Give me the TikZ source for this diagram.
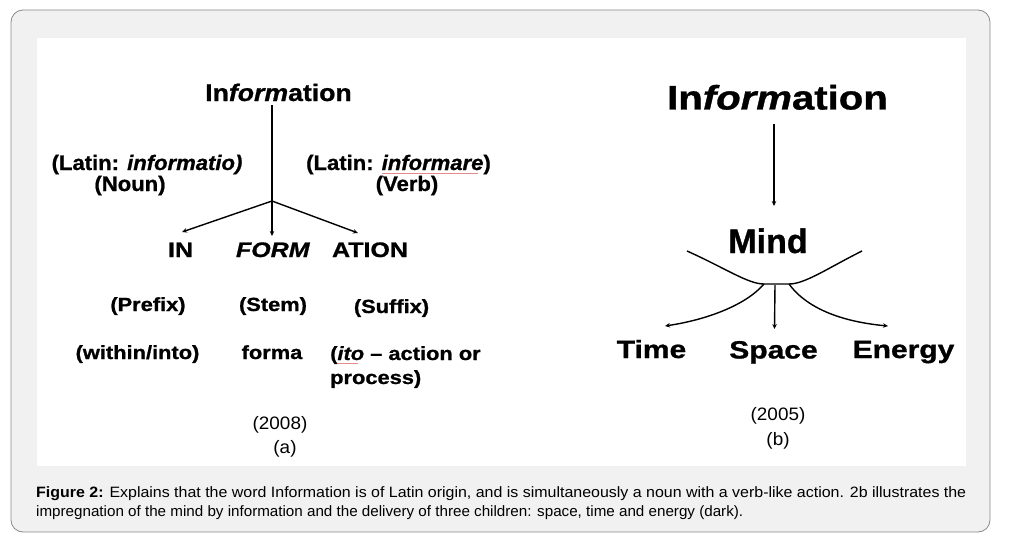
\documentclass[tikz,border=0pt]{standalone}
\usepackage{fontspec}
\usepackage{graphicx}
\setmainfont{Liberation Sans}
\newfontfamily\hv[UprightFont={Liberation Sans Bold}, ItalicFont={Liberation Sans Bold Italic}, FakeBold=0.9, Ligatures=TeX]{Liberation Sans}
\usetikzlibrary{arrows.meta}
\definecolor{panel}{HTML}{F1F1F1}
\definecolor{frame}{HTML}{8A8A8A}
\definecolor{squig}{HTML}{E58A8A}
\newcommand\fsz[1]{\fontsize{#1}{#1}\selectfont}
\newcommand\sx[2]{\scalebox{#1}[1]{#2}}
\begin{document}
\begin{tikzpicture}[x=1pt,y=-1pt,
  lbl/.style={inner sep=0pt, anchor=base, font=\hv},
  plain/.style={inner sep=0pt, anchor=base},
  conn/.style={line width=1.4pt, black},
  arr/.style={conn, -{Stealth[length=5pt,width=4.5pt]}}]
\useasboundingbox (0,0) rectangle (1010,543);
% panels
\draw[frame, fill=panel, line width=0.8pt, rounded corners=12pt] (11,10) rectangle (990,532);
\fill[white] (37,38) rectangle (966,466);

% ---------- (a) ----------
\node[lbl] (infoA) at (278.5,101) {\sx{1.11}{\fsz{24}In\textit{form}ation}};
\node[lbl] (latN) at (147,170) {\sx{1.05}{\fsz{21}(Latin: \textit{informatio)}}};
\node[lbl] (noun) at (130,191) {\sx{1.05}{\fsz{21}(Noun)}};
\node[lbl] (latV) at (398.5,170) {\sx{1.05}{\fsz{21}(Latin: \textit{informare})}};
\node[lbl] (verb) at (407,191) {\sx{1.05}{\fsz{21}(Verb)}};
\node[lbl] (IN) at (180.5,257) {\sx{1.19}{\fsz{21}IN}};
\node[lbl] (FORM) at (273,257) {\sx{1.19}{\fsz{21}\textit{FORM}}};
\node[lbl] (ATION) at (370,257) {\sx{1.19}{\fsz{21}ATION}};
\node[lbl] (pre) at (148,311) {\sx{1.15}{\fsz{19}(Prefix)}};
\node[lbl] (stem) at (273,311) {\sx{1.15}{\fsz{19}(Stem)}};
\node[lbl] (suf) at (391.5,313) {\sx{1.15}{\fsz{19}(Suffix)}};
\node[lbl] (within) at (137.5,359) {\sx{1.15}{\fsz{19}(within/into)}};
\node[lbl] (forma) at (272,359) {\sx{1.15}{\fsz{19}forma}};
\node[lbl, anchor=base west] (ito) at (330,360) {\sx{1.15}{\fsz{19}(\textit{ito} – action or}};
\node[lbl, anchor=base west] (proc) at (330,384) {\sx{1.15}{\fsz{19}process)}};
\node[plain] (y08) at (280,429) {\sx{1.05}{\fsz{18}(2008)}};
\node[plain] (ya) at (285,453) {\sx{1.05}{\fsz{18}(a)}};
% spell-check squiggles
\draw[squig, line width=0.6pt] (382,173) -- (478,173);
\draw[squig, line width=0.6pt] (338,363) -- (358,363);

\coordinate (a0) at (272,105);
\coordinate (br) at (272,201);
\coordinate (tIN) at (182,232);
\coordinate (tFORM) at (272,236);
\coordinate (tATION) at (358,233);
\draw[conn] (a0) -- (br);
\draw[arr] (br) -- (tIN);
\draw[arr] (br) -- (tFORM);
\draw[arr] (br) -- (tATION);

% ---------- (b) ----------
\node[lbl] (infoB) at (777.5,109.5) {\sx{1.18}{\fsz{34}In\textit{form}ation}};
\node[lbl] (mind) at (768,253) {\fsz{34}Mind};
\node[lbl] (time) at (651.5,358) {\sx{1.2}{\fsz{25}Time}};
\node[lbl] (space) at (773.5,358.5) {\sx{1.2}{\fsz{25}Space}};
\node[lbl] (energy) at (903.5,358) {\sx{1.2}{\fsz{25}Energy}};
\node[plain] (y05) at (778,420) {\sx{1.05}{\fsz{18}(2005)}};
\node[plain] (yb) at (778,445) {\sx{1.05}{\fsz{18}(b)}};

\coordinate (b0) at (774,124);
\coordinate (b1) at (774,206);
\draw[arr] (b0) -- (b1);
\coordinate (uL) at (687,251);
\coordinate (uR) at (862,251);
\coordinate (cL) at (764,284);
\coordinate (cM) at (775,285);
\coordinate (cR) at (789,284);
\coordinate (tT) at (665,326);
\coordinate (tS) at (774.5,329);
\coordinate (tE) at (888,326);
\draw[conn] (uL) .. controls (725,268) and (748,284) .. (cL) -- (cR)
  .. controls (805,284) and (828,268) .. (uR);
\draw[arr] (cL) .. controls (745,306) and (705,320) .. (tT);
\draw[arr] (cM) -- (tS);
\draw[arr] (cR) .. controls (808,310) and (845,322) .. (tE);

% ---------- caption ----------
\node[inner sep=0pt, anchor=base west] (cap1) at (36,497)
  {\resizebox{930pt}{\height}{\fsz{15}\textbf{Figure 2:} Explains that the word Information is of Latin origin, and is simultaneously a noun with a verb-like action. 2b illustrates the}};
\node[inner sep=0pt, anchor=base west] (cap2) at (36,516)
  {\resizebox{707pt}{\height}{\fsz{15}impregnation of the mind by information and the delivery of three children: space, time and energy (dark).}};
\end{tikzpicture}
\end{document}
